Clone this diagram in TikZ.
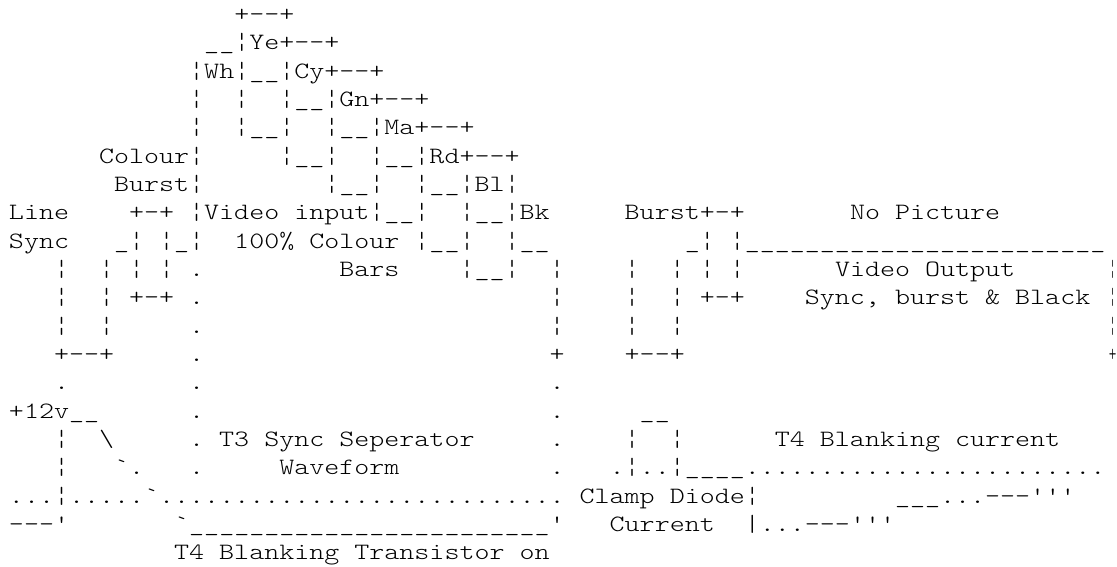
\documentclass[tikz,border=0pt]{standalone}
\usepackage{fontspec}
\newfontfamily\asciifont[FakeStretch=1.2225]{Latin Modern Mono Light}
\newfontfamily\edgefont[FakeStretch=0.62]{Latin Modern Mono Light}
\newcommand{\edgechar}[1]{\kern3.6pt{\edgefont #1}}
\tikzset{
  x=1pt,y=1pt,
  ascii/.style={anchor=base west,inner sep=0pt,outer sep=0pt,font=\asciifont\fontsize{23.4}{28}\selectfont\frenchspacing,text=black}
}
\begin{document}
\begin{tikzpicture}
\useasboundingbox[fill=white] (0,0) rectangle (1117,-567);
\def\xo{9}
\newcommand{\asciirow}[2]{\node[ascii] (row#1) at (\xo,{-(21.4+28.33*(#1-1))}) {#2};}
\asciirow{1}{~~~~~~~~~~~~~~~+--+}
\asciirow{2}{~~~~~~~~~~~~~\_\_¦Ye+--+}
\asciirow{3}{~~~~~~~~~~~~¦Wh¦\_\_¦Cy+--+}
\asciirow{4}{~~~~~~~~~~~~¦~~¦~~¦\_\_¦Gn+--+}
\asciirow{5}{~~~~~~~~~~~~¦~~¦\_\_¦~~¦\_\_¦Ma+--+}
\asciirow{6}{~~~~~~Colour¦~~~~~¦\_\_¦~~¦\_\_¦Rd+--+}
\asciirow{7}{~~~~~~~Burst¦~~~~~~~~¦\_\_¦~~¦\_\_¦Bl¦}
\asciirow{8}{Line~~~~+-+~¦Video~input¦\_\_¦~~¦\_\_¦Bk~~~~~Burst+-+~~~~~~~No~Picture}
\asciirow{9}{Sync~~~\_¦~¦\_¦~~100\%~Colour~¦\_\_¦~~¦\_\_~~~~~~~~~\_¦~¦\_\_\_\_\_\_\_\_\_\_\_\_\_\_\_\_\_\_\_\_\_\_\_\_}
\asciirow{10}{~~~¦~~¦~¦~¦~.~~~~~~~~~Bars~~~~¦\_\_¦~~¦~~~~¦~~¦~¦~¦~~~~~~Video~Output~~~~~~\edgechar{¦}}
\asciirow{11}{~~~¦~~¦~+-+~.~~~~~~~~~~~~~~~~~~~~~~~¦~~~~¦~~¦~+-+~~~~Sync,~burst~\&~Black~\edgechar{¦}}
\asciirow{12}{~~~¦~~¦~~~~~.~~~~~~~~~~~~~~~~~~~~~~~¦~~~~¦~~¦~~~~~~~~~~~~~~~~~~~~~~~~~~~~\edgechar{¦}}
\asciirow{13}{~~~+--+~~~~~.~~~~~~~~~~~~~~~~~~~~~~~+~~~~+--+~~~~~~~~~~~~~~~~~~~~~~~~~~~~\edgechar{+}}
\asciirow{14}{~~~.~~~~~~~~.~~~~~~~~~~~~~~~~~~~~~~~.}
\asciirow{15}{+12v\_\_~~~~~~.~~~~~~~~~~~~~~~~~~~~~~~.~~~~~\_\_}
\asciirow{16}{~~~¦~~\textbackslash~~~~~.~T3~Sync~Seperator~~~~~.~~~~¦~~¦~~~~~~T4~Blanking~current}
\asciirow{17}{~~~¦~~~`.~~~.~~~~~Waveform~~~~~~~~~~.~~~.¦..¦\_\_\_\_........................}
\asciirow{18}{...¦.....`...........................~Clamp~Diode¦~~~~~~~~~\_\_\_...---'''}
\asciirow{19}{---'~~~~~~~`\_\_\_\_\_\_\_\_\_\_\_\_\_\_\_\_\_\_\_\_\_\_\_\_'~~~Current~~|...---'''}
\asciirow{20}{~~~~~~~~~~~T4~Blanking~Transistor~on}
\end{tikzpicture}
\end{document}
